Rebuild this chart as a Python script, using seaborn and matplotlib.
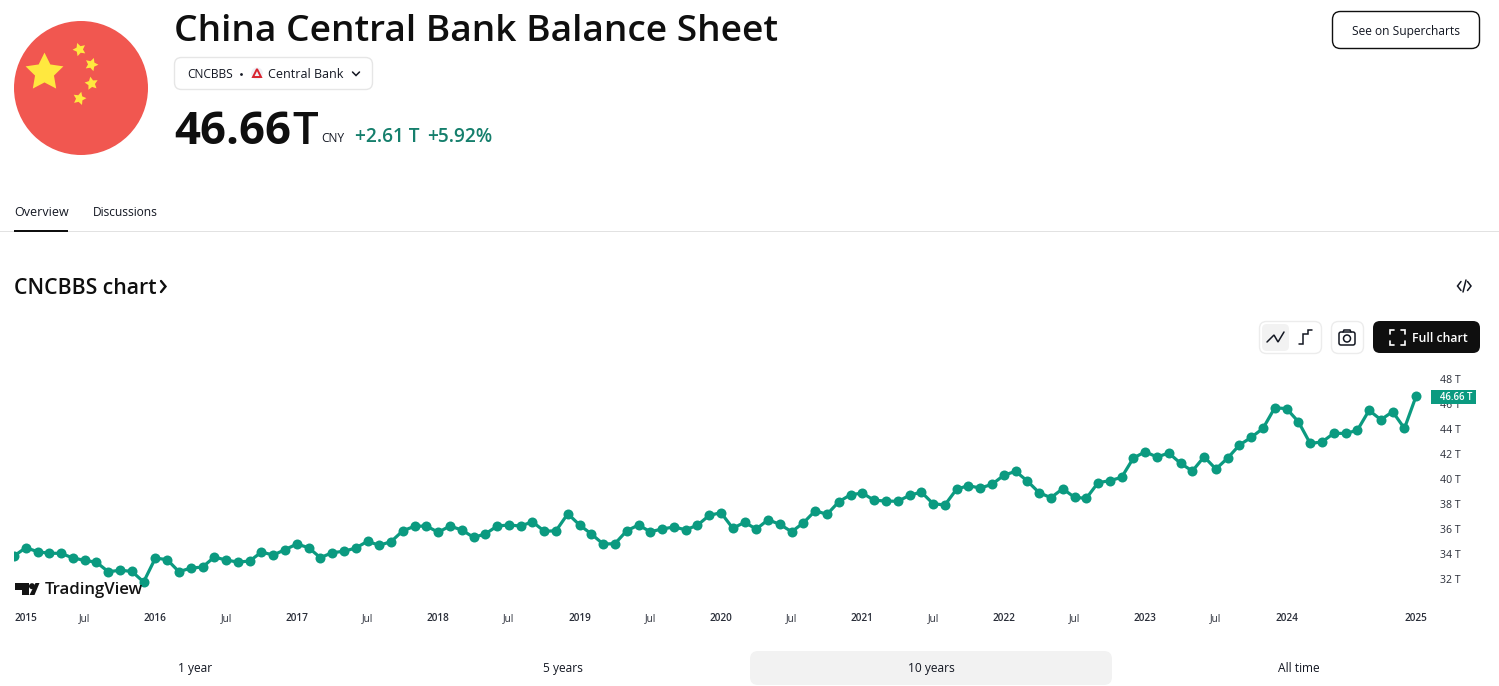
import pandas as pd
import seaborn as sns
import matplotlib.pyplot as plt
from matplotlib.patches import Circle, FancyBboxPatch, Polygon, Rectangle

# ----------------------
# Data
# ----------------------
# monthly values in trillion CNY (one month is missing in 2024)
balance = [
    33.86, 34.53, 34.21, 34.08, 34.08, 33.70, 33.52, 33.36, 32.61, 32.72, 32.64, 31.79,
    33.70, 33.57, 32.61, 32.90, 32.98, 33.78, 33.54, 33.38, 33.46, 34.18, 33.94, 34.37,
    34.82, 34.53, 33.73, 34.13, 34.24, 34.50, 35.04, 34.72, 35.01, 35.88, 36.24, 36.26,
    35.76, 36.26, 35.94, 35.36, 35.62, 36.26, 36.34, 36.26, 36.60, 35.84, 35.88, 37.24,
    36.34, 35.62, 34.82, 34.85, 35.88, 36.34, 35.80, 36.02, 36.18, 35.96, 36.32, 37.11,
    37.32, 36.08, 36.55, 36.02, 36.76, 36.39, 35.80, 36.52, 37.48, 37.19, 38.20, 38.76,
    38.89, 38.31, 38.26, 38.23, 38.71, 38.97, 38.04, 37.94, 39.21, 39.48, 39.29, 39.59,
    40.31, 40.63, 39.85, 38.92, 38.52, 39.24, 38.55, 38.47, 39.72, 39.88, 40.15, 41.69,
    42.19, 41.77, 42.09, 41.27, 40.65, 41.79, 40.81, 41.69, 42.73, 43.34, 44.06, 45.71,
    45.63, 44.59, 42.86, 42.97, 43.66, 43.66, 43.90, 45.50, 44.75, 45.39, 44.06, 46.66,
]
x_tick_idx = [0, 6, 12, 18, 24, 30, 36, 42, 48, 54, 60, 66, 72, 78, 84, 90, 96, 102, 108, 119]
x_tick_labels = ["2015", "Jul", "2016", "Jul", "2017", "Jul", "2018", "Jul", "2019", "Jul",
                 "2020", "Jul", "2021", "Jul", "2022", "Jul", "2023", "Jul", "2024", "2025"]
y_ticks = [32, 34, 36, 38, 40, 42, 44, 46, 48]
tab_labels = ["1 year", "5 years", "10 years", "All time"]

# ----------------------
# Style
# ----------------------
W, H = 1499, 686
GREEN = "#0b9a80"
INK = "#131722"
FONT = "Open Sans"

sns.set_theme(style="white")
plt.rcParams["font.family"] = [FONT, "DejaVu Sans"]

fig = plt.figure(figsize=(W / 100, H / 100), dpi=100, facecolor="white")


def px(size):
    return size * 0.72


# ----------------------
# Price chart
# ----------------------
ax = fig.add_axes([14 / W, 1 - 600 / H, (1428 - 14) / W, (600 - 365) / H])
df = pd.DataFrame({"idx": range(len(balance)), "value": balance})
sns.lineplot(data=df, x="idx", y="value", ax=ax, color=GREEN, linewidth=2.3,
             marker="o", markersize=7.2, markeredgewidth=0, zorder=3)
ax.set_xlim(0, 120)
ax.set_ylim(30.35, 49.12)
ax.set_xlabel("")
ax.set_ylabel("")
for side in ax.spines:
    ax.spines[side].set_visible(False)
ax.patch.set_alpha(0)
ax.set_xticks(x_tick_idx, x_tick_labels)
ax.yaxis.tick_right()
ax.set_yticks(y_ticks, [f"{v} T" for v in y_ticks])
ax.tick_params(axis="x", length=0, pad=9.3, labelsize=px(10), labelcolor="#2a2e39")
ax.tick_params(axis="y", length=0, pad=8.7, labelsize=px(10.5), labelcolor="#2a2e39")
for lbl, name in zip(ax.get_xticklabels(), x_tick_labels):
    if name[0] == "2":
        lbl.set_fontweight("semibold")
ax.get_xticklabels()[0].set_ha("left")

# ----------------------
# Page furniture, in pixel coordinates
# ----------------------
ui = fig.add_axes([0, 0, 1, 1], zorder=5)
ui.set_xlim(0, W)
ui.set_ylim(H, 0)
ui.axis("off")
ui.patch.set_alpha(0)


def label(x, y, s, size=12, color=INK, weight="normal", ha="left", va="center", **kw):
    return ui.text(x, y, s, fontsize=px(size), color=color, fontweight=weight, ha=ha, va=va, **kw)


def box(x0, y0, x1, y1, r=8, fc="white", ec="none", lw=1.0, z=1):
    p = FancyBboxPatch((x0 + r, y0 + r), x1 - x0 - 2 * r, y1 - y0 - 2 * r,
                       boxstyle=f"round,pad={r},rounding_size={r}", fc=fc, ec=ec, lw=lw, zorder=z)
    ui.add_patch(p)


def stroke(xs, ys, color=INK, lw=1.1, z=4):
    ui.plot(xs, ys, color=color, lw=lw, zorder=z, solid_capstyle="round", solid_joinstyle="miter")


# flag
ui.add_patch(Circle((81, 88), 67, fc="#f15750", ec="none"))
ui.scatter([44], [72], marker=(5, 1, 0), s=820, color="#ffe83f", linewidths=0, zorder=2)
for sx, sy, ang in [(79, 49, 20), (91, 64, -20), (91, 83, 10), (79, 98, -15)]:
    ui.scatter([sx], [sy], marker=(5, 1, ang), s=100, color="#ffe83f", linewidths=0, zorder=2)

# header
label(174, 32, "China Central Bank Balance Sheet", size=37.1, weight="semibold", color="#0f0f0f")
box(174.5, 57.5, 372.5, 89.5, r=7, ec="#e6e6e6")
label(187, 74, "CNCBBS", size=12)
ui.scatter([241], [73.5], s=4, color=INK, linewidths=0)
ui.add_patch(Circle((257, 73.5), 6, fc="#f0f0f6", ec="none"))
ui.add_patch(Polygon([(257, 69), (261, 77), (253, 77)], closed=True, fc="none", ec="#d8232f", lw=1.4))
label(268, 74, "Central Bank", size=12.5)
stroke([352.5, 356, 359.5], [72, 75.5, 72])
label(174, 132.5, "46.66", size=45.5, weight="bold", color="#0f0f0f")
label(292, 132.5, "T", size=45.5, weight="semibold", color="#0f0f0f")
label(321, 138, "CNY", size=12)
label(355, 137, "+2.61 T", size=19, weight="semibold", color="#157f6c")
label(427, 137, "+5.92%", size=19, weight="semibold", color="#157f6c")
box(1332.5, 11.5, 1479.5, 48.5, r=8, ec="#0f0f0f", lw=1.0)
label(1406, 31, "See on Supercharts", size=12, ha="center")

# tabs
ui.add_patch(Rectangle((0, 231), W, 1, fc="#e2e2e2", ec="none"))
ui.add_patch(Rectangle((14, 230), 54, 2, fc="#0f0f0f", ec="none", zorder=2))
label(14, 213, "Overview", size=12.5)
label(93, 213, "Discussions", size=12)

# chart section heading
label(14, 288, "CNCBBS chart", size=21.3, weight="semibold", color="#0f0f0f")
stroke([161, 165.5, 161], [281, 286.5, 292], color="#0f0f0f", lw=1.7)
stroke([1461, 1457.5, 1461], [281.5, 286, 290.5])
stroke([1467.5, 1471, 1467.5], [281.5, 286, 290.5])
stroke([1463, 1466], [292, 280])

# chart toolbar
box(1259.5, 321.5, 1321.5, 353.5, r=7, ec="#ececec")
box(1262, 324, 1289, 351, r=5, fc="#f2f2f2")
stroke([1267, 1274, 1278, 1284], [342, 335, 342, 332])
stroke([1299.5, 1303.5, 1303.5, 1308, 1308, 1312.5], [344, 344, 334, 334, 330, 330])
box(1331.5, 321.5, 1363.5, 353.5, r=7, ec="#ececec")
box(1339, 332, 1355, 345, r=2, ec=INK, lw=1.1, z=3)
ui.add_patch(Circle((1347, 338.5), 3.5, fc="none", ec=INK, lw=1.1, zorder=4))
stroke([1343, 1344, 1350, 1351], [332, 330, 330, 332])
box(1373, 321, 1480, 353, r=7, fc="#0f0f0f")
for cx, cy, dx, dy in [(1390, 330, 1, 1), (1405, 330, -1, 1), (1390, 345, 1, -1), (1405, 345, -1, -1)]:
    stroke([cx + 4 * dx, cx, cx], [cy, cy, cy + 4 * dy], color="white", lw=1.2)
label(1412, 338, "Full chart", size=12.3, color="white", weight="semibold")

# last value tag
ui.add_patch(Rectangle((1431, 389.5), 45, 14.5, fc=GREEN, ec="none", zorder=3))
label(1440, 397, "46.66 T", size=9.6, color="white", weight="semibold", zorder=4)

# TradingView mark
ui.add_patch(Polygon([(15.5, 583), (29, 583), (29, 595), (22, 595), (22, 589.5), (15.5, 589.5)],
                     closed=True, fc="#131313", ec="none"))
ui.add_patch(Circle((32, 586.2), 3, fc="#131313", ec="none"))
ui.add_patch(Polygon([(29.5, 595), (34.5, 595), (39.5, 583), (35.5, 583)], closed=True, fc="#131313", ec="none"))
label(45, 590, "TradingView", size=16.7, weight="semibold", color="#131313")

# range tabs
box(750, 651, 1112, 685, r=8, fc="#f2f2f2")
for tx, name in zip([195, 563, 931, 1299], tab_labels):
    label(tx, 668.5, name, size=12, ha="center")

fig.savefig("out.png", dpi=100, facecolor="white")
